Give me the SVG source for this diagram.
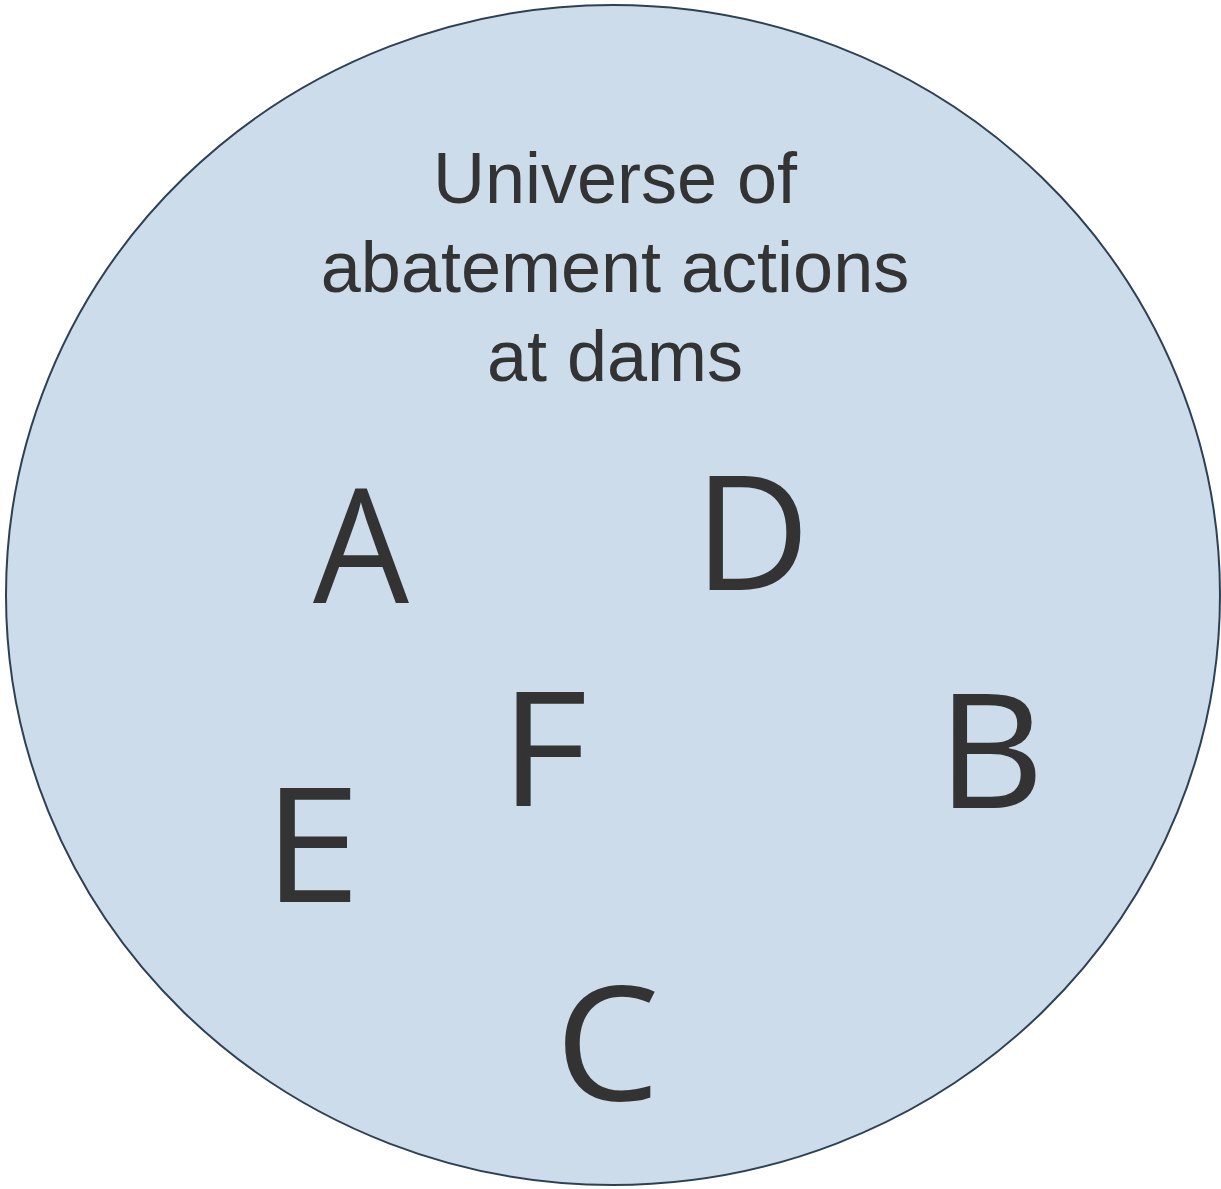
<svg xmlns="http://www.w3.org/2000/svg" width="1221" height="1189" viewBox="0 0 1221 1189">
<style>
.title{font-family:"Liberation Sans","Arial",sans-serif;font-size:72px;fill:#333333;text-anchor:middle}
.lbl{font-family:"Open Sans","Noto Sans",sans-serif;font-size:160px;fill:#333333}
</style>
<rect width="1221" height="1189" fill="#ffffff"/>
<g id="universe">
<ellipse cx="613" cy="595" rx="607" ry="590" fill="#CCDCEA" stroke="#2E4053" stroke-width="2"/>
<text class="title" x="615" y="203">Universe of</text>
<text class="title" x="615" y="292">abatement actions</text>
<text class="title" x="615" y="381">at dams</text>
</g>
<g id="node-A"><text class="lbl" x="313" y="603" transform="translate(313 0) scale(0.95 1) translate(-313 0)">A</text></g>
<g id="node-D"><text class="lbl" x="694" y="590">D</text></g>
<g id="node-F"><text class="lbl" x="500" y="806" transform="translate(500 0) scale(1.06 1) translate(-500 0)">F</text></g>
<g id="node-B"><text class="lbl" x="937" y="808" transform="translate(937 0) scale(1.04 1) translate(-937 0)">B</text></g>
<g id="node-E"><text class="lbl" x="263" y="902" transform="translate(263 0) scale(1.1 1) translate(-263 0)">E</text></g>
<g id="node-C"><text class="lbl" x="555" y="1100" transform="translate(555 0) scale(1.04 1) translate(-555 0)">C</text></g>
<g id="connectors"></g>
</svg>
